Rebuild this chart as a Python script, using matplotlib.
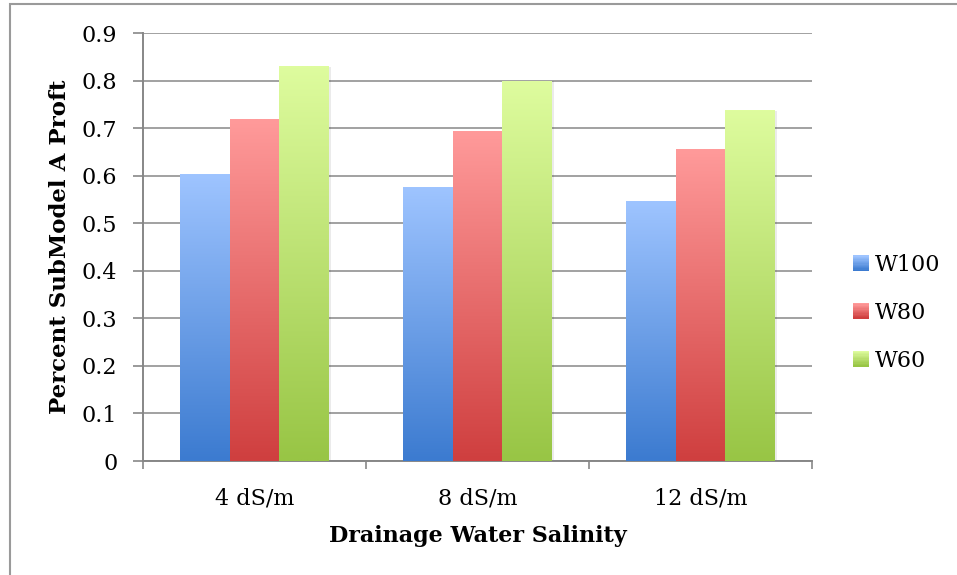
import numpy as np
import matplotlib
matplotlib.use("Agg")
import matplotlib.pyplot as plt
from matplotlib.patches import Rectangle, Patch
from matplotlib.legend_handler import HandlerPatch
from matplotlib.colors import to_rgb

categories = ["4 dS/m", "8 dS/m", "12 dS/m"]
series = ["W100", "W80", "W60"]
w100 = [0.602, 0.575, 0.545]
w80 = [0.718, 0.693, 0.655]
w60 = [0.829, 0.799, 0.736]
y_ticks = [0, 0.1, 0.2, 0.3, 0.4, 0.5, 0.6, 0.7, 0.8, 0.9]
y_tick_labels = ["0", "0.1", "0.2", "0.3", "0.4", "0.5", "0.6", "0.7", "0.8", "0.9"]
x_title = "Drainage Water Salinity"
y_title = "Percent SubModel A Proft"

# (top colour, bottom colour) for each series' vertical gradient
gradients = [("#9EC4FF", "#3C7BD0"), ("#FF9A9A", "#CF3F3F"), ("#DEFC9E", "#98C545")]

plt.rcParams["font.family"] = ["DejaVu Serif"]

fig = plt.figure(figsize=(9.57, 5.75), dpi=100)
ax = fig.add_axes([143 / 957, 1 - 461 / 575, 669 / 957, 428 / 575])

x = np.arange(len(categories))
width = 0.224
values = [w100, w80, w60]


def gradient_image(top, bottom, n=128):
    t = np.linspace(0, 1, n)[:, None]
    c0 = np.array(to_rgb(top))
    c1 = np.array(to_rgb(bottom))
    return (c0 * (1 - t) + c1 * t)[:, None, :]


for i, (vals, (top, bottom)) in enumerate(zip(values, gradients)):
    bars = ax.bar(x + (i - 1) * width, vals, width, facecolor="none",
                  edgecolor="none", zorder=3, label=series[i])
    for p in bars.patches:
        x0, w, h = p.get_x(), p.get_width(), p.get_height()
        # soft drop shadow
        ax.add_patch(Rectangle((x0 + 0.004, -0.004), w + 0.004, h + 0.004,
                               facecolor="#000000", alpha=0.08,
                               edgecolor="none", zorder=2))
        ax.imshow(gradient_image(top, bottom), extent=[x0, x0 + w, 0, h],
                  aspect="auto", origin="upper", zorder=3,
                  interpolation="bilinear")

ax.set_xlim(-0.5, len(categories) - 0.5)
ax.set_ylim(0, 0.9)

ax.set_yticks(y_ticks)
ax.set_yticklabels(y_tick_labels)
ax.set_xticks(x)
ax.set_xticklabels(categories)
ax.set_xticks(np.arange(len(categories) + 1) - 0.5, minor=True)

ax.yaxis.grid(True, color="#878787", linewidth=1.1, zorder=0)
ax.set_axisbelow(True)

for side in ("top", "right"):
    ax.spines[side].set_visible(False)
for side in ("left", "bottom"):
    ax.spines[side].set_color("#878787")
    ax.spines[side].set_linewidth(1.4)

ax.tick_params(axis="y", direction="out", length=7.5, width=1.2,
               color="#878787", labelsize=16, pad=11)
ax.tick_params(axis="x", which="major", length=0, labelsize=16, pad=19)
ax.tick_params(axis="x", which="minor", direction="out", length=6,
               width=1.2, color="#878787")

ax.set_xlabel(x_title, fontsize=16, fontweight="bold", labelpad=11)
ax.set_ylabel(y_title, fontsize=16.5, fontweight="bold", labelpad=8)


class GradientHandler(HandlerPatch):
    def __init__(self, top, bottom, **kw):
        super().__init__(**kw)
        self.top, self.bottom = top, bottom

    def create_artists(self, legend, orig_handle, xdescent, ydescent,
                       width, height, fontsize, trans):
        n = 12
        c0, c1 = np.array(to_rgb(self.top)), np.array(to_rgb(self.bottom))
        arts = []
        for k in range(n):
            t = k / (n - 1)
            col = c0 * (1 - t) + c1 * t
            y = -ydescent + height * (1 - (k + 1) / n)
            r = Rectangle((-xdescent, y), width, height / n + 0.3,
                          facecolor=col, edgecolor="none", transform=trans)
            arts.append(r)
        return arts


handles = [Patch(label=s) for s in series]
handler_map = {h: GradientHandler(t, b) for h, (t, b) in zip(handles, gradients)}
fig.legend(handles=handles, loc="center left",
           bbox_to_anchor=(853 / 957, 1 - 313 / 575), frameon=False,
           fontsize=16, handlelength=0.72, handleheight=0.7,
           handletextpad=0.28, labelspacing=1.15, borderpad=0,
           borderaxespad=0, handler_map=handler_map)

# outer chart frame
fig.patches.append(Rectangle((10 / 957, -0.02), 1.0, 1 - 4 / 575 + 0.02,
                             transform=fig.transFigure, fill=False,
                             edgecolor="#9A9A9A", linewidth=1.5))

fig.savefig("out.png", dpi=100)
